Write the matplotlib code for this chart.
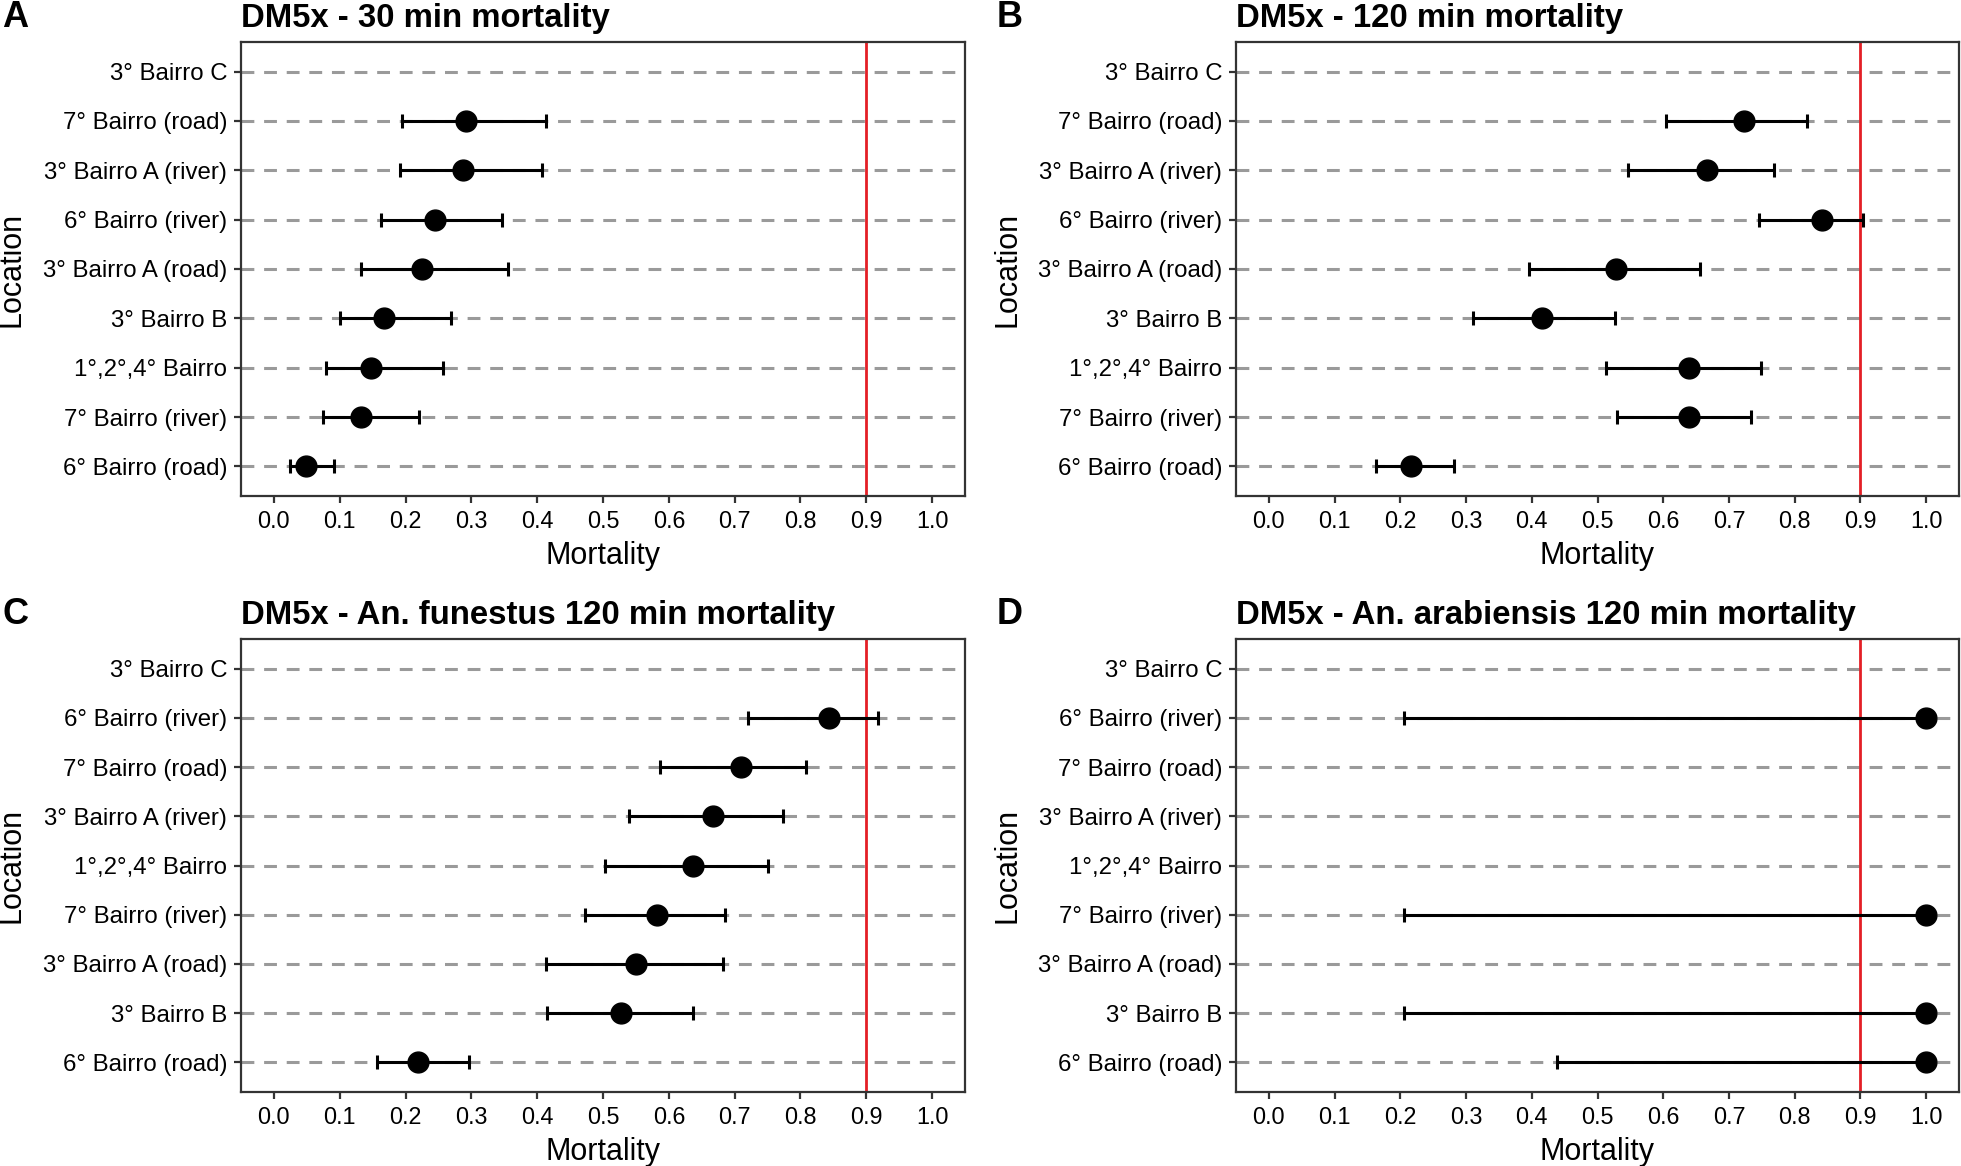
import matplotlib
matplotlib.use("Agg")
import matplotlib.pyplot as plt
import numpy as np

plt.rcParams['font.family'] = ['Liberation Sans', 'DejaVu Sans']

# ---------------- data ----------------
order_ab = ["3° Bairro C", "7° Bairro (road)", "3° Bairro A (river)", "6° Bairro (river)",
            "3° Bairro A (road)", "3° Bairro B", "1°,2°,4° Bairro", "7° Bairro (river)",
            "6° Bairro (road)"]
order_cd = ["3° Bairro C", "6° Bairro (river)", "7° Bairro (road)", "3° Bairro A (river)",
            "1°,2°,4° Bairro", "7° Bairro (river)", "3° Bairro A (road)", "3° Bairro B",
            "6° Bairro (road)"]

# panel A: 30 min mortality (same order as order_ab, top to bottom)
a_mean = [np.nan, 0.292, 0.288, 0.244, 0.225, 0.168, 0.147, 0.132, 0.049]
a_lo   = [np.nan, 0.195, 0.191, 0.163, 0.133, 0.101, 0.079, 0.074, 0.025]
a_hi   = [np.nan, 0.413, 0.407, 0.347, 0.355, 0.269, 0.257, 0.221, 0.091]

# panel B: 120 min mortality
b_mean = [np.nan, 0.723, 0.667, 0.842, 0.528, 0.415, 0.639, 0.639, 0.217]
b_lo   = [np.nan, 0.604, 0.547, 0.746, 0.396, 0.311, 0.513, 0.530, 0.163]
b_hi   = [np.nan, 0.818, 0.768, 0.904, 0.656, 0.527, 0.748, 0.734, 0.282]

# panel C: An. funestus 120 min mortality (order_cd)
c_mean = [np.nan, 0.844, 0.710, 0.667, 0.637, 0.582, 0.550, 0.527, 0.219]
c_lo   = [np.nan, 0.720, 0.586, 0.540, 0.503, 0.472, 0.413, 0.415, 0.156]
c_hi   = [np.nan, 0.918, 0.808, 0.773, 0.751, 0.685, 0.682, 0.637, 0.297]

# panel D: An. arabiensis 120 min mortality (order_cd)
d_mean = [np.nan, 1.0, np.nan, np.nan, np.nan, 1.0, np.nan, 1.0, 1.0]
d_lo   = [np.nan, 0.206, np.nan, np.nan, np.nan, 0.206, np.nan, 0.206, 0.439]
d_hi   = [np.nan, 1.0, np.nan, np.nan, np.nan, 1.0, np.nan, 1.0, 1.0]

titles = ["DM5x - 30 min mortality", "DM5x - 120 min mortality",
          "DM5x - An. funestus 120 min mortality", "DM5x - An. arabiensis 120 min mortality"]
panel_letters = ["A", "B", "C", "D"]
xticks = [0.0, 0.1, 0.2, 0.3, 0.4, 0.5, 0.6, 0.7, 0.8, 0.9, 1.0]
threshold = 0.9

# ---------------- figure ----------------
W, H = 1961, 1166
fig = plt.figure(figsize=(W / 100, H / 100), dpi=100)

def px_axes(left, right, top, bottom):
    return fig.add_axes([left / W, 1 - bottom / H, (right - left) / W, (bottom - top) / H])

boxes = [(241, 965, 42, 496), (1236, 1959, 42, 496),
         (241, 965, 639, 1092), (1236, 1959, 639, 1092)]
datasets = [(order_ab, a_mean, a_lo, a_hi), (order_ab, b_mean, b_lo, b_hi),
            (order_cd, c_mean, c_lo, c_hi), (order_cd, d_mean, d_lo, d_hi)]

spine_col = "#333333"
for i, (box, (cats, m, lo, hi)) in enumerate(zip(boxes, datasets)):
    left, right, top, bottom = box
    ax = px_axes(*box)
    aw, ah = right - left, bottom - top
    n = len(cats)
    y = np.arange(n)[::-1]
    m = np.array(m); lo = np.array(lo); hi = np.array(hi)
    for yy in y:
        ax.axhline(yy, color="#9a9a9a", lw=2.2, ls=(0, (4.2, 3.2)), zorder=1)
    ax.axvline(threshold, color="#e41f26", lw=2.0, zorder=2)
    ok = ~np.isnan(m)
    ax.errorbar(m[ok], y[ok], xerr=[m[ok] - lo[ok], hi[ok] - m[ok]], fmt="none",
                ecolor="black", elinewidth=2.2, capsize=5, capthick=2.2, zorder=3)
    ax.plot(m[ok], y[ok], "o", color="black", ms=15, zorder=4)
    ax.set_xlim(-0.05, 1.05)
    ax.set_ylim(-0.6, n - 1 + 0.6)
    ax.set_yticks(y)
    ax.set_yticklabels(cats)
    ax.set_xticks(xticks)
    ax.set_xticklabels([f"{t:.1f}" for t in xticks])
    ax.tick_params(axis="both", colors=spine_col, labelcolor="black",
                   length=5, width=1.6, pad=5)
    ax.tick_params(axis="y", labelsize=17.3)
    ax.tick_params(axis="x", labelsize=16.8)
    for s in ax.spines.values():
        s.set_color(spine_col)
        s.set_linewidth(1.6)
    ax.set_xlabel("Mortality", fontsize=22)
    ax.xaxis.set_label_coords(0.5, -45 / ah)
    ax.set_ylabel("Location", fontsize=22)
    ax.yaxis.set_label_coords(-(left - 27 - (0 if i % 2 == 0 else 995)) / aw, 0.5)
    ax.text(0.0, 1 + 15 / ah, titles[i], transform=ax.transAxes, ha="left", va="baseline",
            fontsize=23.7, fontweight="bold")
    fig.text((2 if i % 2 == 0 else 997) / W, 1 - (top - 15) / H, panel_letters[i],
             fontsize=26, fontweight="bold", ha="left", va="baseline")

fig.savefig("out.png", dpi=100)
